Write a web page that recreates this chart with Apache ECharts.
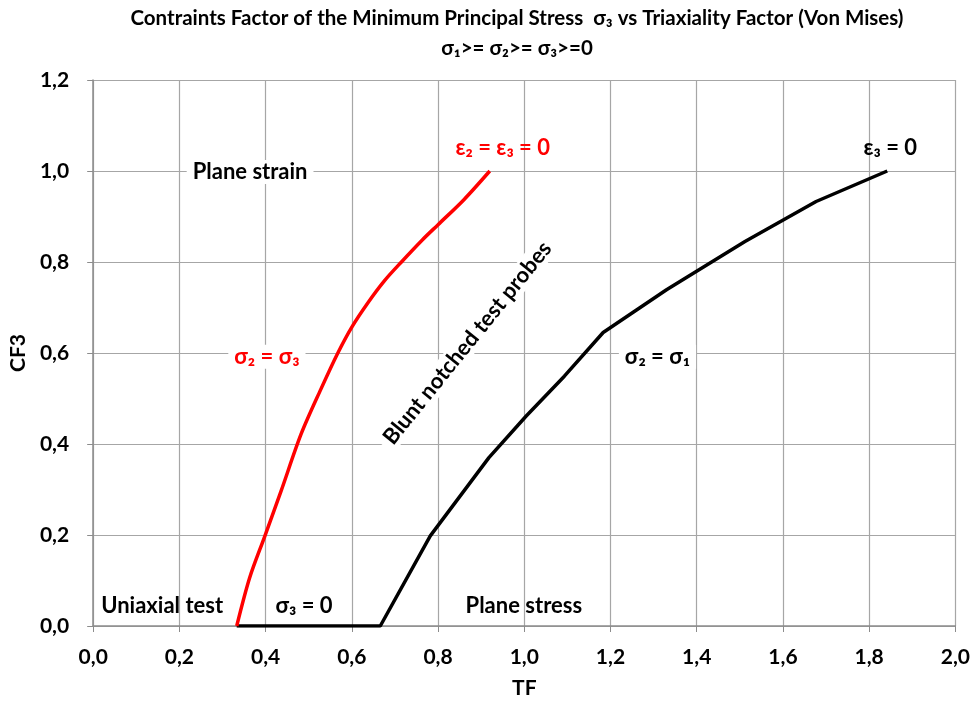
<!DOCTYPE html>
<html>
<head>
<meta charset="utf-8">
<script src="https://cdn.jsdelivr.net/npm/echarts@6/dist/echarts.min.js"></script>
<style>html,body{margin:0;padding:0;background:#fff;}#c{width:973px;height:704px;}</style>
</head>
<body>
<div id="c"></div>
<script>
// ---- data ----
var xTicks = [0, 0.2, 0.4, 0.6, 0.8, 1.0, 1.2, 1.4, 1.6, 1.8, 2.0];
var yTicks = [0, 0.2, 0.4, 0.6, 0.8, 1.0, 1.2];
// sigma2 = sigma3 curve (red)
var redTF  = [0.333, 0.363, 0.398, 0.436, 0.482, 0.528, 0.567, 0.600, 0.637, 0.675, 0.714, 0.764, 0.800, 0.860, 0.920];
var redCF  = [0.0,   0.106, 0.197, 0.297, 0.421, 0.520, 0.599, 0.657, 0.710, 0.758, 0.799, 0.849, 0.882, 0.937, 1.000];
// sigma3 = 0 then sigma2 = sigma1 curve (black)
var blackTF = [0.333, 0.666, 0.782, 0.918, 1.004, 1.093, 1.183, 1.330, 1.512, 1.677, 1.842];
var blackCF = [0.0,   0.0,   0.198, 0.370, 0.461, 0.549, 0.645, 0.739, 0.845, 0.933, 1.000];
// annotation labels
var notes = [
  {text: 'Plane strain', x: 0.364, y: 0.998, color: '#000', bg: true, rot: 0},
  {text: 'ε₂ = ε₃ = 0', x: 0.950, y: 1.051, color: '#ff0000', bg: false, rot: 0},
  {text: 'ε₃ = 0', x: 1.849, y: 1.051, color: '#000', bg: false, rot: 0},
  {text: 'σ₂ = σ₃', x: 0.403, y: 0.592, color: '#ff0000', bg: true, rot: 0},
  {text: 'σ₂ = σ₁', x: 1.309, y: 0.592, color: '#000', bg: true, rot: 0},
  {text: 'Blunt notched test probes', x: 0.868, y: 0.622, color: '#000', bg: true, rot: 51},
  {text: 'Uniaxial test', x: 0.160, y: 0.044, color: '#000', bg: false, rot: 0},
  {text: 'σ₃ = 0', x: 0.489, y: 0.044, color: '#000', bg: false, rot: 0},
  {text: 'Plane stress', x: 0.999, y: 0.044, color: '#000', bg: false, rot: 0}
];
var titleText = 'Contraints Factor of the Minimum Principal Stress  σ₃ vs Triaxiality Factor (Von Mises)';
var subTitleText = 'σ₁>= σ₂>= σ₃>=0';

var FONT = 'Lato, "Open Sans", sans-serif';

function zip(a, b) { return a.map(function (v, i) { return [v, b[i]]; }); }
function fmt(v) { return v.toFixed(1).replace('.', ','); }

var chart = echarts.init(document.getElementById('c'), null, {renderer: 'canvas'});

var noteSeries = notes.map(function (n) {
  return {
    type: 'scatter',
    symbolSize: 0,
    silent: true,
    z: 5,
    itemStyle: {opacity: 1},
    data: [[n.x, n.y]],
    label: {
      show: true,
      position: 'inside',
      formatter: n.text,
      color: n.color,
      opacity: 1,
      fontFamily: FONT,
      fontWeight: 'bold',
      fontSize: 22,
      rotate: n.rot,
      backgroundColor: n.bg ? '#ffffff' : 'transparent',
      padding: n.bg ? [1, 6, 1, 6] : 0
    }
  };
});

chart.setOption({
  animation: false,
  backgroundColor: '#ffffff',
  title: [
    {text: titleText, left: 512, top: 3, textAlign: 'center',
     textStyle: {fontFamily: FONT, fontWeight: 'bold', fontSize: 20.5, color: '#000'}},
    {text: subTitleText, left: 512, top: 33, textAlign: 'center',
     textStyle: {fontFamily: FONT, fontWeight: 'bold', fontSize: 20.5, color: '#000'}}
  ],
  grid: {left: 92, right: 17, top: 80, bottom: 77, containLabel: false},
  xAxis: {
    type: 'value', min: xTicks[0], max: xTicks[xTicks.length - 1], interval: 0.2,
    name: 'TF', nameLocation: 'middle', nameGap: 52,
    nameTextStyle: {fontFamily: FONT, fontWeight: 'bold', fontSize: 21, color: '#000'},
    axisLine: {show: true, lineStyle: {color: '#8c8c8c', width: 1.5}},
    axisTick: {show: true, length: 6, lineStyle: {color: '#8c8c8c'}},
    axisLabel: {formatter: fmt, fontFamily: FONT, fontWeight: 'bold', fontSize: 21, color: '#000', margin: 21},
    splitLine: {show: true, lineStyle: {color: '#a6a6a6', width: 1.2}}
  },
  yAxis: {
    type: 'value', min: yTicks[0], max: yTicks[yTicks.length - 1], interval: 0.2,
    name: 'CF3', nameLocation: 'middle', nameGap: 61, nameRotate: 90,
    nameTextStyle: {fontFamily: FONT, fontWeight: 'bold', fontSize: 21, color: '#000'},
    axisLine: {show: true, lineStyle: {color: '#8c8c8c', width: 1.5}},
    axisTick: {show: true, length: 6, lineStyle: {color: '#8c8c8c'}},
    axisLabel: {formatter: fmt, fontFamily: FONT, fontWeight: 'bold', fontSize: 21, color: '#000', margin: 24},
    splitLine: {show: true, lineStyle: {color: '#a6a6a6', width: 1.2}}
  },
  series: [
    {type: 'line', data: zip(blackTF, blackCF), showSymbol: false, symbol: 'none', z: 3,
     lineStyle: {color: '#000000', width: 3.5}},
    {type: 'line', data: zip(redTF, redCF), showSymbol: false, symbol: 'none', smooth: 0.3, z: 4,
     lineStyle: {color: '#ff0000', width: 3.5}}
  ].concat(noteSeries)
});
</script>
</body>
</html>
